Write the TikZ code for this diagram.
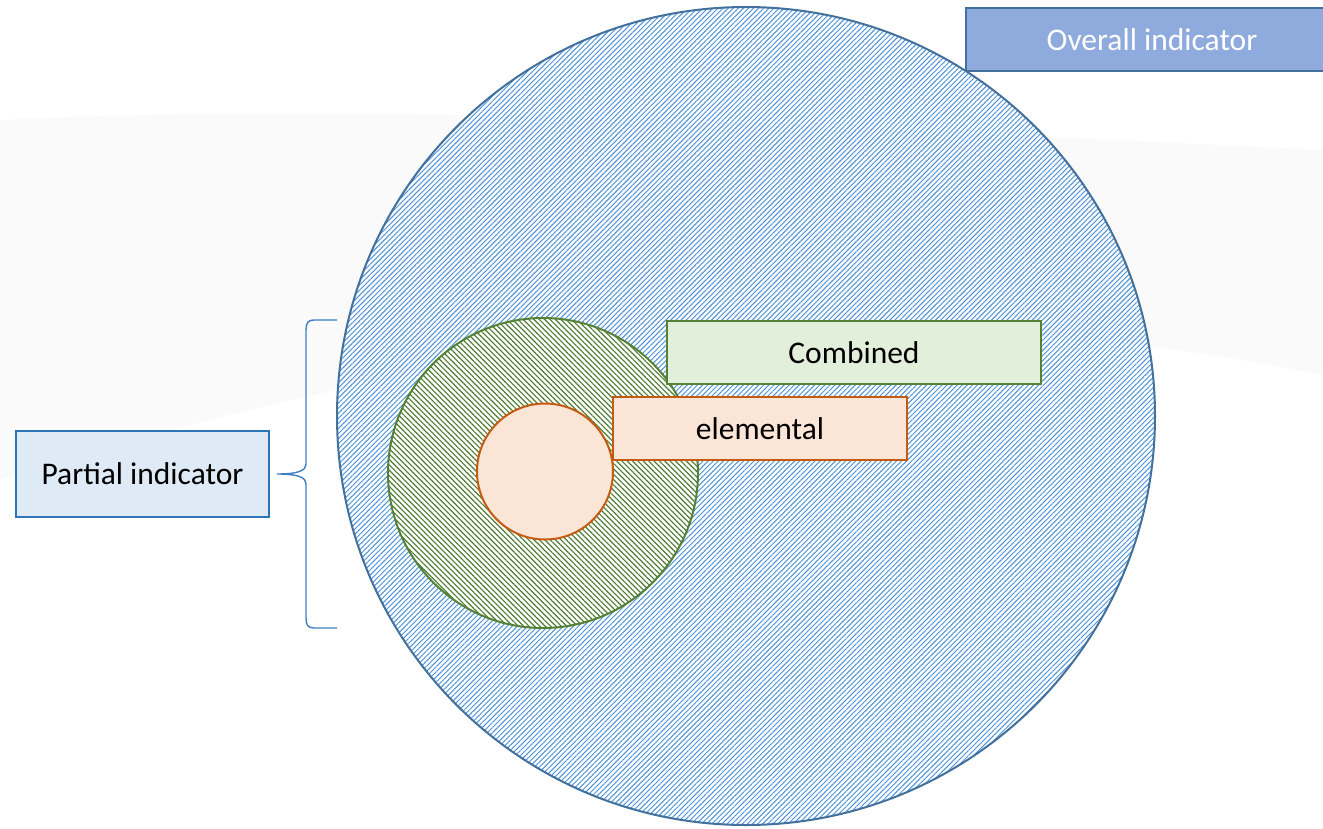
\documentclass[tikz,border=0pt]{standalone}
\usepackage{fontspec}
\setmainfont{Carlito}
\usetikzlibrary{patterns.meta}
\definecolor{bigedge}{HTML}{41719C}
\definecolor{hatchblue}{HTML}{4A8FD6}
\definecolor{hatchgreen}{HTML}{4E7A32}
\definecolor{greenedge}{HTML}{548235}
\definecolor{greenfill}{HTML}{E2EFDA}
\definecolor{orangeedge}{HTML}{C55A11}
\definecolor{orangefill}{HTML}{FBE5D6}
\definecolor{overfill}{HTML}{8FAADC}
\definecolor{partfill}{HTML}{DEEBF7}
\definecolor{partedge}{HTML}{2E75B6}
\definecolor{bracecol}{HTML}{3B7FC4}
\tikzset{
  lbl/.style={rectangle, inner sep=0pt, line width=2pt, font=\fontsize{31.5}{36}\selectfont},
  ring/.style={circle, inner sep=0pt, line width=2pt},
}
\begin{document}
\begin{tikzpicture}[x=1pt,y=-1pt]
\useasboundingbox (0,0) rectangle (1323,828);
% faint background swoosh
\fill[black!2] (0,120) .. controls (400,100) and (900,130) .. (1323,150)
  -- (1323,375) .. controls (1000,310) and (600,290) .. (0,480) -- cycle;
% overall circle
\node[ring, draw=bigedge, minimum size=818pt,
  pattern={Lines[angle=45,distance=3.6pt,line width=0.95pt]}, pattern color=hatchblue]
  (big) at (746,416) {};
% combined circle
\node[ring, draw=greenedge, minimum size=310pt, preaction={fill=white},
  pattern={Lines[angle=-45,distance=3.8pt,line width=1.15pt]}, pattern color=hatchgreen]
  (mid) at (543,473) {};
% elemental circle
\node[ring, draw=orangeedge, fill=orangefill, minimum size=136pt] (small) at (545,471.5) {};
% boxes
\node[lbl, draw=bigedge, fill=overfill, text=white, minimum width=372pt, minimum height=63pt]
  (overall) at (1152,39.5) {Overall indicator};
\node[lbl, draw=greenedge, fill=greenfill, minimum width=374pt, minimum height=63pt]
  (combined) at (854,352.5) {Combined};
\node[lbl, draw=orangeedge, fill=orangefill, minimum width=294pt, minimum height=63pt]
  (elemental) at (760,428.5) {elemental};
\node[lbl, draw=partedge, fill=partfill, minimum width=253pt, minimum height=86pt]
  (partial) at (142.5,474) {Partial indicator};
% brace
\coordinate (btop) at (337,320);
\coordinate (bbot) at (337,628);
\coordinate (btip) at (277,474);
\draw[bracecol, line width=1.4pt] (btop) -- (314,320) .. controls (308,320) and (306,323) .. (306,330)
  -- (306,464) .. controls (306,470) and (300,474) .. (btip)
  .. controls (300,474) and (306,478) .. (306,484)
  -- (306,618) .. controls (306,625) and (308,628) .. (314,628) -- (bbot);
\end{tikzpicture}
\end{document}
